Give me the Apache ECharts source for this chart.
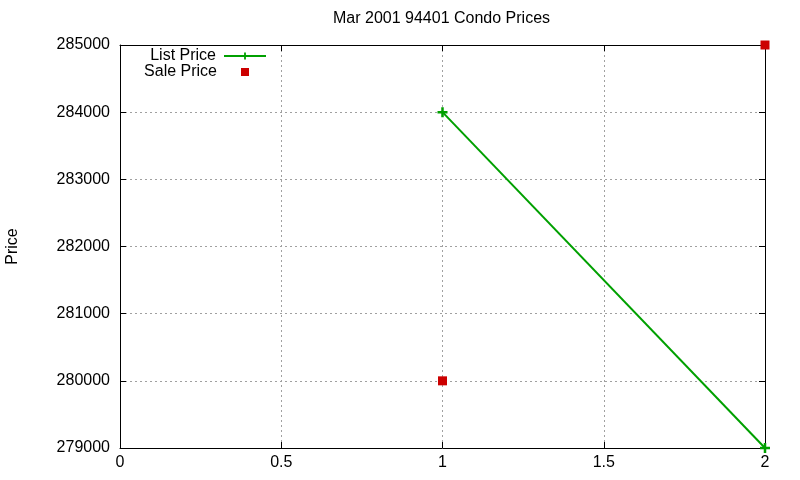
<!DOCTYPE html>
<html>
<head>
<meta charset="utf-8">
<script src="https://cdn.jsdelivr.net/npm/echarts@6/dist/echarts.min.js"></script>
<style>
html,body{margin:0;padding:0;background:#fff;}
#chart{width:800px;height:480px;}
</style>
</head>
<body>
<div id="chart"></div>
<script>
// data
var listX = [1, 2];
var listPrice = [284000, 279000];
var saleX = [1, 2];
var salePrice = [280000, 285000];
var xTicks = [0, 0.5, 1, 1.5, 2];
var yTicks = [279000, 280000, 281000, 282000, 283000, 284000, 285000];

var FONT = '"Liberation Sans", Arial, sans-serif';
var plusPath = 'path://M3,0H5V3H8V5H5V8H3V5H0V3H3Z';

function pairs(xs, ys){
	var out = [];
	for(var i=0;i<xs.length;i++){ out.push([xs[i], ys[i]]); }
	return out;
}

var chart = echarts.init(document.getElementById('chart'));
var option = {
	animation:false,
	backgroundColor:'#fff',
	textStyle:{fontFamily:FONT},
	title:{
		text:'Mar 2001 94401 Condo Prices',
		left:333,
		top:11,
		padding:0,
		textStyle:{color:'#000',fontSize:16,fontWeight:'normal',fontFamily:FONT}
	},
	legend:[
		{
			data:['List Price'],
			orient:'vertical',
			align:'right',
			right:533,
			top:48,
			padding:0,
			itemWidth:42,
			itemHeight:9,
			textStyle:{color:'#000',fontSize:16,fontFamily:FONT,padding:[0,3,0,0]}
		},
		{
			data:['Sale Price'],
			orient:'vertical',
			align:'right',
			right:551,
			top:64,
			padding:0,
			itemWidth:8,
			itemHeight:8,
			textStyle:{color:'#000',fontSize:16,fontFamily:FONT,padding:[0,19,0,0]}
		}
	],
	grid:{left:120,right:35,top:45,bottom:32,containLabel:false,outerBoundsMode:'none'},
	xAxis:[
		{
			type:'value',min:0,max:2,interval:0.5,
			axisLine:{show:true,onZero:false,lineStyle:{color:'#000',width:1}},
			axisTick:{show:true,inside:true,length:6,lineStyle:{color:'#000'}},
			axisLabel:{color:'#000',fontSize:16,margin:7,fontFamily:FONT},
			splitLine:{show:true,lineStyle:{color:'#a0a0a0',type:[2,3],width:1}}
		},
		{
			type:'value',min:0,max:2,interval:0.5,position:'top',
			axisLine:{show:true,onZero:false,lineStyle:{color:'#000',width:1}},
			axisTick:{show:true,inside:true,length:6,lineStyle:{color:'#000'}},
			axisLabel:{show:false},
			splitLine:{show:false}
		}
	],
	yAxis:[
		{
			type:'value',min:279000,max:285000,interval:1000,
			name:'Price',nameLocation:'middle',nameGap:99,nameRotate:90,
			nameTextStyle:{color:'#000',fontSize:16,fontFamily:FONT},
			axisLine:{show:true,onZero:false,lineStyle:{color:'#000',width:1}},
			axisTick:{show:true,inside:true,length:6,lineStyle:{color:'#000'}},
			axisLabel:{color:'#000',fontSize:16,margin:10,fontFamily:FONT,
				formatter:function(v){ return String(v); }},
			splitLine:{show:true,lineStyle:{color:'#a0a0a0',type:[2,3],width:1}}
		},
		{
			type:'value',min:279000,max:285000,interval:1000,position:'right',
			axisLine:{show:true,onZero:false,lineStyle:{color:'#000',width:1}},
			axisTick:{show:true,inside:true,length:6,lineStyle:{color:'#000'}},
			axisLabel:{show:false},
			splitLine:{show:false}
		}
	],
	series:[
		{
			name:'List Price',
			type:'line',
			data:pairs(listX, listPrice),
			symbol:plusPath,
			symbolSize:10,
			showAllSymbol:true,
			color:'#00a000',
			lineStyle:{color:'#00a000',width:2},
			itemStyle:{color:'#00a000'},
			z:3
		},
		{
			name:'Sale Price',
			type:'scatter',
			data:pairs(saleX, salePrice),
			symbol:'rect',
			symbolSize:9,
			color:'#cc0000',
			itemStyle:{color:'#cc0000',opacity:1},
			z:4
		}
	]
};
chart.setOption(option);
</script>
</body>
</html>
